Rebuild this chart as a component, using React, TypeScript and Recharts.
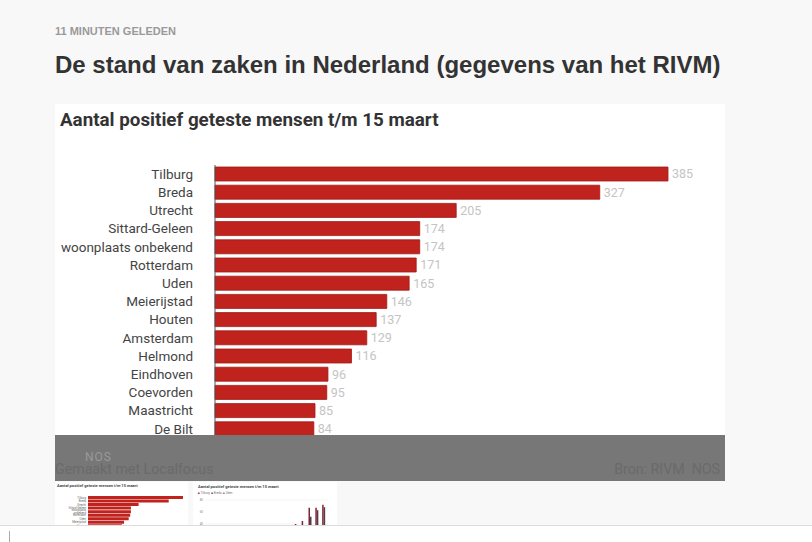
import React from "react";
import { BarChart, Bar, XAxis, YAxis, LabelList, CartesianGrid } from "recharts";

const cities = [
  "Tilburg",
  "Breda",
  "Utrecht",
  "Sittard-Geleen",
  "woonplaats onbekend",
  "Rotterdam",
  "Uden",
  "Meierijstad",
  "Houten",
  "Amsterdam",
  "Helmond",
  "Eindhoven",
  "Coevorden",
  "Maastricht",
  "De Bilt",
];
const positives = [385, 327, 205, 174, 174, 171, 165, 146, 137, 129, 116, 96, 95, 85, 84];

const thumbDates = [
  "27-02", "28-02", "29-02", "01-03", "02-03", "03-03", "04-03", "05-03", "06-03",
  "07-03", "08-03", "09-03", "10-03", "11-03", "12-03", "13-03", "14-03", "15-03",
];
const thumbTilburg = [0, 0, 0, 0, 0, 0, 0, 0, 0, 0, 0, 0, 0, 40, 45, 67, 67, 72];
const thumbBreda = [0, 0, 0, 0, 0, 0, 0, 0, 0, 0, 0, 0, 0, 0, 0, 52, 63, 68];
const thumbUden = [0, 0, 0, 0, 0, 0, 0, 0, 0, 0, 0, 0, 0, 0, 0, 0, 0, 0];
const thumbTicks = [40, 50, 60, 70, 80];

const barData = cities.map((name, i) => ({ name, value: positives[i] }));
const thumbData = thumbDates.map((d, i) => ({
  d,
  Tilburg: thumbTilburg[i],
  Breda: thumbBreda[i],
  Uden: thumbUden[i],
}));

const RED = "#c0221e";

export default function App() {
  return (
    <div
      style={{
        position: "absolute",
        left: 0,
        top: 0,
        width: 812,
        height: 542,
        background: "#f8f8f8",
        overflow: "hidden",
        fontFamily: "'Liberation Sans', Arial, sans-serif",
      }}
    >
      <div
        style={{
          position: "absolute",
          left: 55,
          top: 25,
          fontSize: 11,
          fontWeight: "bold",
          color: "#9a9a9a",
          fontFamily: "'Liberation Sans Narrow', 'Liberation Sans', sans-serif",
          whiteSpace: "nowrap",
        }}
      >
        11 MINUTEN GELEDEN
      </div>
      <div
        style={{
          position: "absolute",
          left: 55,
          top: 51,
          fontSize: 24,
          fontWeight: "bold",
          color: "#333",
          letterSpacing: 0,
          whiteSpace: "nowrap",
        }}
      >
        De stand van zaken in Nederland (gegevens van het RIVM)
      </div>

      {/* main chart box */}
      <div style={{ position: "absolute", left: 55, top: 104, width: 670, height: 377, background: "#fff" }}>
        <div
          style={{
            position: "absolute",
            left: 5,
            top: 5,
            fontFamily: "Roboto, sans-serif",
            fontWeight: "bold",
            fontSize: 18.8,
            color: "#333",
            whiteSpace: "nowrap",
          }}
        >
          Aantal positief geteste mensen t/m 15 maart
        </div>
        <BarChart
          width={670}
          height={377}
          data={barData}
          layout="vertical"
          margin={{ top: 61, right: 57, bottom: 43, left: 0 }}
          style={{ position: "absolute", left: 0, top: 0 }}
        >
          <XAxis type="number" domain={[0, 385]} hide />
          <YAxis
            type="category"
            dataKey="name"
            width={160}
            axisLine={{ stroke: "#555", strokeWidth: 1 }}
            tickLine={false}
            tickSize={0}
            tickMargin={22}
            interval={0}
            tick={{ fontFamily: "Roboto, sans-serif", fontSize: 13.5, fill: "#444" }}
          />
          <Bar dataKey="value" fill={RED} stroke="#a11b18" strokeWidth={0.8} barSize={14} isAnimationActive={false}>
            <LabelList
              dataKey="value"
              position="right"
              offset={4}
              style={{ fontFamily: "Roboto, sans-serif", fontSize: 12.5, fill: "#c4c4c4" }}
            />
          </Bar>
        </BarChart>
      </div>

      {/* grey overlay */}
      <div style={{ position: "absolute", left: 55, top: 435, width: 670, height: 46, background: "#777" }}>
        <div
          style={{
            position: "absolute",
            left: 30,
            top: 15,
            fontFamily: "Roboto, sans-serif",
            fontSize: 12,
            color: "#999",
            letterSpacing: 1,
          }}
        >
          NOS
        </div>
        <div
          style={{
            position: "absolute",
            left: 0,
            top: 26,
            fontFamily: "Roboto, sans-serif",
            fontSize: 14.2,
            color: "#6a6a6a",
            whiteSpace: "nowrap",
          }}
        >
          Gemaakt met Localfocus
        </div>
        <div
          style={{
            position: "absolute",
            right: 5,
            top: 26,
            fontFamily: "Roboto, sans-serif",
            fontSize: 14.2,
            color: "#6a6a6a",
            whiteSpace: "pre",
          }}
        >
          {"Bron: RIVM  NOS"}
        </div>
      </div>

      {/* thumbnail 1 */}
      <div style={{ position: "absolute", left: 55, top: 482, width: 133, height: 43, background: "#fff", overflow: "hidden" }}>
        <div
          style={{
            position: "absolute",
            left: 2,
            top: 1,
            fontFamily: "Roboto, sans-serif",
            fontWeight: "bold",
            fontSize: 4,
            color: "#444",
            whiteSpace: "nowrap",
          }}
        >
          Aantal positief geteste mensen t/m 15 maart
        </div>
        <BarChart
          width={133}
          height={70}
          data={barData}
          layout="vertical"
          margin={{ top: 14, right: 5, bottom: 3, left: 0 }}
          style={{ position: "absolute", left: 0, top: 0 }}
        >
          <XAxis type="number" domain={[0, 385]} hide />
          <YAxis
            type="category"
            dataKey="name"
            width={33}
            axisLine={false}
            tickLine={false}
            tickSize={0}
            tickMargin={2}
            interval={0}
            tick={{ fontFamily: "Roboto, sans-serif", fontSize: 2.8, fill: "#666" }}
          />
          <Bar dataKey="value" fill={RED} barSize={3} isAnimationActive={false} />
        </BarChart>
      </div>

      {/* thumbnail 2 */}
      <div style={{ position: "absolute", left: 193, top: 482, width: 144, height: 43, background: "#fff", overflow: "hidden" }}>
        <div
          style={{
            position: "absolute",
            left: 5,
            top: 2,
            fontFamily: "Roboto, sans-serif",
            fontWeight: "bold",
            fontSize: 4,
            color: "#444",
            whiteSpace: "nowrap",
          }}
        >
          Aantal positief geteste mensen t/m 15 maart
        </div>
        <div
          style={{
            position: "absolute",
            left: 5,
            top: 9,
            fontFamily: "Roboto, sans-serif",
            fontSize: 3,
            color: "#777",
            whiteSpace: "pre",
          }}
        >
          <span style={{ color: "#7d2532" }}>■</span> Tilburg  <span style={{ color: "#5a3a42" }}>■</span> Breda  <span style={{ color: "#8a6a72" }}>■</span> Uden
        </div>
        <BarChart
          width={144}
          height={75}
          data={thumbData}
          margin={{ top: 18, right: 9, bottom: 9, left: 0 }}
          barGap={0}
          barCategoryGap={1}
          style={{ position: "absolute", left: 0, top: 0 }}
        >
          <CartesianGrid vertical={false} stroke="#e4e4e4" strokeWidth={0.5} />
          <XAxis dataKey="d" hide />
          <YAxis
            domain={[0, 80]}
            ticks={thumbTicks}
            width={12}
            axisLine={false}
            tickLine={false}
            tickSize={0}
            tickMargin={2}
            tick={{ fontFamily: "Roboto, sans-serif", fontSize: 3, fill: "#888" }}
          />
          <Bar dataKey="Tilburg" fill="#7d2532" barSize={1.5} isAnimationActive={false} />
          <Bar dataKey="Breda" fill="#5a3a42" barSize={1.5} isAnimationActive={false} />
          <Bar dataKey="Uden" fill="#8a6a72" barSize={1.5} isAnimationActive={false} />
        </BarChart>
      </div>

      {/* bottom strip */}
      <div style={{ position: "absolute", left: 0, top: 525, width: 812, height: 17, background: "#fff", borderTop: "1px solid #dcdcdc" }} />
      <div style={{ position: "absolute", left: 9, top: 531, width: 1, height: 11, background: "#aaa" }} />
    </div>
  );
}
